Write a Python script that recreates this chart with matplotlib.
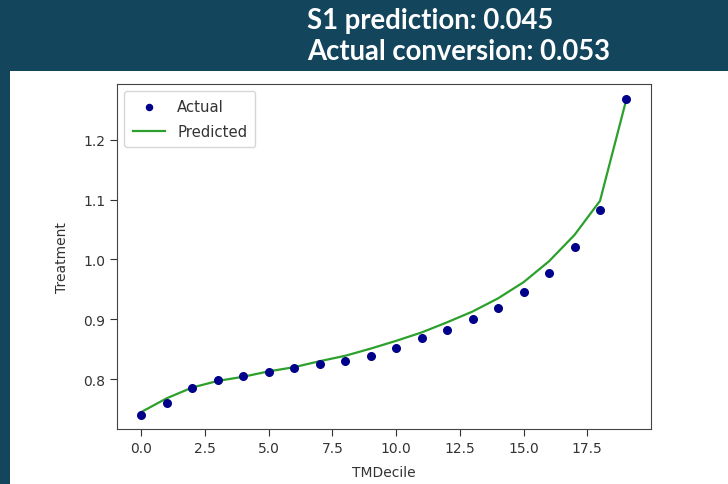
"""
Slide-style chart: actual vs predicted treatment by TM decile.
"""

import matplotlib
matplotlib.use("Agg")
import matplotlib.pyplot as plt

DECILES = list(range(20))
ACTUAL = [0.740, 0.760, 0.785, 0.798, 0.806, 0.812, 0.818, 0.826, 0.831, 0.839,
          0.852, 0.868, 0.882, 0.900, 0.919, 0.945, 0.977, 1.021, 1.082, 1.268]
PREDICTED = [0.745, 0.768, 0.786, 0.797, 0.804, 0.813, 0.820, 0.830, 0.839, 0.851,
             0.864, 0.878, 0.895, 0.913, 0.935, 0.962, 0.997, 1.041, 1.098, 1.262]
TITLE_LINES = ["S1 prediction: 0.045", "Actual conversion: 0.053"]

BG = "#13465d"
TEXT = "#333333"

fig = plt.figure(figsize=(7.28, 4.85), dpi=100, facecolor=BG)

# white panel holding the chart
panel = fig.add_axes([10 / 728, 0, 1, 1 - 72 / 485])
panel.set_facecolor("white")
panel.set_xticks([])
panel.set_yticks([])
for s in panel.spines.values():
    s.set_visible(False)

for i, (line, base) in enumerate(zip(TITLE_LINES, [28.5, 60])):
    fig.text(307 / 728, 1 - base / 485, line, color="white",
             fontsize=19.8, fontweight="bold", family="Lato",
             ha="left", va="baseline")

ax = fig.add_axes([117 / 728, 1 - 430 / 485, (651 - 117) / 728, (430 - 84.5) / 485])
ax.scatter(DECILES, ACTUAL, s=30, color="#00008b", label="Actual", zorder=3)
ax.plot(DECILES, PREDICTED, color="#2ca02c", lw=1.6, label="Predicted", zorder=2)

ax.set_xlim(-0.95, 20.0)
ax.set_ylim(0.7167, 1.294)
ax.set_xticks([0, 2.5, 5, 7.5, 10, 12.5, 15, 17.5])
ax.set_yticks([0.8, 0.9, 1.0, 1.1, 1.2])
ax.set_xlabel("TMDecile", fontsize=10, color=TEXT, labelpad=7)
ax.set_ylabel("Treatment", fontsize=10, color=TEXT, labelpad=10)
ax.tick_params(labelsize=10, colors=TEXT, length=5)
for s in ax.spines.values():
    s.set_color("#444444")
ax.legend(loc="upper left", fontsize=10.7, labelcolor=TEXT, handlelength=2.2,
          markerscale=0.8, labelspacing=0.65, borderpad=0.55)

fig.savefig("out.png", dpi=100, facecolor=BG)
